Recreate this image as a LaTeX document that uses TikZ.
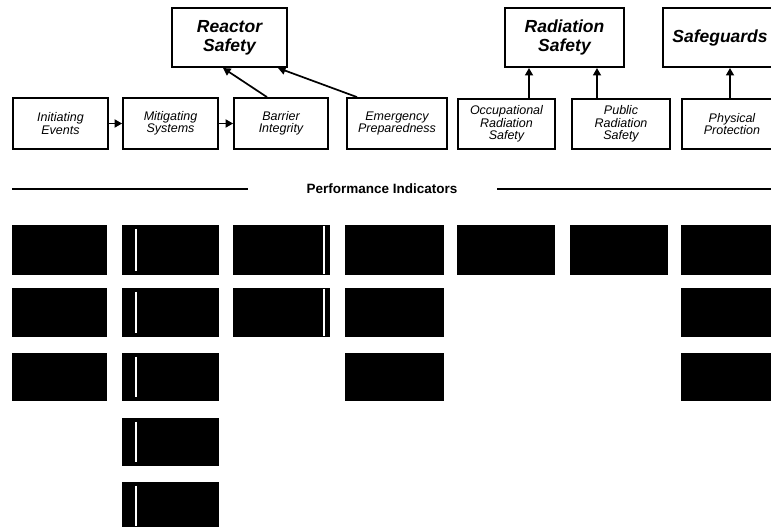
\documentclass[tikz,border=0pt]{standalone}
\usepackage{fontspec}
\setmainfont{Liberation Sans}
\usetikzlibrary{arrows.meta}
\begin{document}
\begin{tikzpicture}[x=1pt,y=-1pt,
  topbox/.style={draw, line width=2pt, inner sep=0pt, align=center,
    font=\fontsize{17.5}{19}\selectfont\bfseries\itshape},
  subbox/.style={draw, line width=1.8pt, inner sep=0pt, align=center,
    font=\fontsize{12.5}{12.5}\selectfont\itshape},
  pibox/.style={fill=black, draw=none, inner sep=0pt, minimum height=49pt},
  link/.style={line width=1.7pt, -{Triangle[length=7.5pt,width=8pt]}},
  rule/.style={line width=2pt},
  gap/.style={white, line width=1.3pt},
]
\fill[white] (0,0) rectangle (771,527);
\useasboundingbox (0,0) rectangle (771,527);
\clip (0,0) rectangle (771,527);

% top category boxes
\node[topbox, minimum width=115pt, minimum height=59pt] (RS) at (229.5,37.5) {Reactor\\Safety};
\node[topbox, minimum width=119pt, minimum height=59pt] (RadS) at (564.5,37.5) {Radiation\\Safety};
\node[topbox, minimum width=114pt, minimum height=59pt] (SG) at (720,37.5) {Safeguards};

% cornerstone boxes
\node[subbox, minimum width=95pt, minimum height=51pt] (IE) at (60.5,123.5) {Initiating\\Events};
\node[subbox, minimum width=95pt, minimum height=51pt] (MS) at (170.5,123.5) {Mitigating\\Systems};
\node[subbox, minimum width=94pt, minimum height=51pt] (BI) at (281,123.5) {Barrier\\Integrity};
\node[subbox, minimum width=100pt, minimum height=51pt] (EP) at (397,123.5) {Emergency\\Preparedness};
\node[subbox, minimum width=97pt, minimum height=50pt] (OR) at (506.5,124) {Occupational\\Radiation\\Safety};
\node[subbox, minimum width=98pt, minimum height=50pt] (PR) at (621,124) {Public\\Radiation\\Safety};
\node[subbox, minimum width=100pt, minimum height=50pt] (PP) at (732,124) {Physical\\Protection};

% connectors
\draw[link] (IE.east) -- (MS.west);
\draw[link] (MS.east) -- (BI.west);
\draw[link] ([xshift=-14pt]BI.north) -- ([xshift=-6.5pt]RS.south);
\draw[link] ([xshift=-40pt]EP.north) -- ([xshift=48.5pt]RS.south);
\draw[link] ([xshift=22.5pt]OR.north) -- ([xshift=-35.5pt]RadS.south);
\draw[link] ([xshift=-24pt]PR.north) -- ([xshift=32.5pt]RadS.south);
\draw[link] ([xshift=-2pt]PP.north) -- ([xshift=10pt]SG.south);

% performance indicators heading
\node[font=\fontsize{13.5}{14}\selectfont\bfseries, inner sep=0pt] (PI) at (382,189) {Performance Indicators};
\coordinate (L1) at (12,189);
\coordinate (L2) at (248,189);
\coordinate (R1) at (497,189);
\coordinate (R2) at (771,189);
\draw[rule] (L1) -- (L2);
\draw[rule] (R1) -- (R2);

% indicator blocks
% column 1
\node[pibox, minimum width=95pt, minimum height=50pt] (p11) at (59.5,250) {};
\node[pibox, minimum width=95pt] (p12) at (59.5,312.5) {};
\node[pibox, minimum width=95pt, minimum height=48pt] (p13) at (59.5,377) {};
% column 2
\node[pibox, minimum width=97pt, minimum height=50pt] (p21) at (170.5,250) {};
\node[pibox, minimum width=97pt] (p22) at (170.5,312.5) {};
\node[pibox, minimum width=97pt, minimum height=48pt] (p23) at (170.5,377) {};
\node[pibox, minimum width=97pt, minimum height=48pt] (p24) at (170.5,442) {};
\node[pibox, minimum width=97pt, minimum height=48pt] (p25) at (170.5,506) {};
% column 3
\node[pibox, minimum width=97pt, minimum height=50pt] (p31) at (281.5,250) {};
\node[pibox, minimum width=97pt] (p32) at (281.5,312.5) {};
% column 4
\node[pibox, minimum width=99pt, minimum height=50pt] (p41) at (394.5,250) {};
\node[pibox, minimum width=99pt] (p42) at (394.5,312.5) {};
\node[pibox, minimum width=99pt, minimum height=48pt] (p43) at (394.5,377) {};
% column 5, 6
\node[pibox, minimum width=98pt, minimum height=50pt] (p51) at (506,250) {};
\node[pibox, minimum width=98pt, minimum height=50pt] (p61) at (619,250) {};
% column 7
\node[pibox, minimum width=99pt, minimum height=50pt] (p71) at (730.5,250) {};
\node[pibox, minimum width=99pt] (p72) at (730.5,312.5) {};
\node[pibox, minimum width=99pt, minimum height=48pt] (p73) at (730.5,377) {};

% thin white separators inside some blocks
\foreach \b in {p21,p22,p23,p24,p25}
  \draw[gap] ([xshift=-34.5pt,yshift=-4pt]\b.north) -- ([xshift=-34.5pt,yshift=4pt]\b.south);
\foreach \b in {p31,p32}
  \draw[gap, line width=2.2pt] ([xshift=42.5pt,yshift=-1pt]\b.north) -- ([xshift=42.5pt,yshift=1pt]\b.south);
\end{tikzpicture}
\end{document}
